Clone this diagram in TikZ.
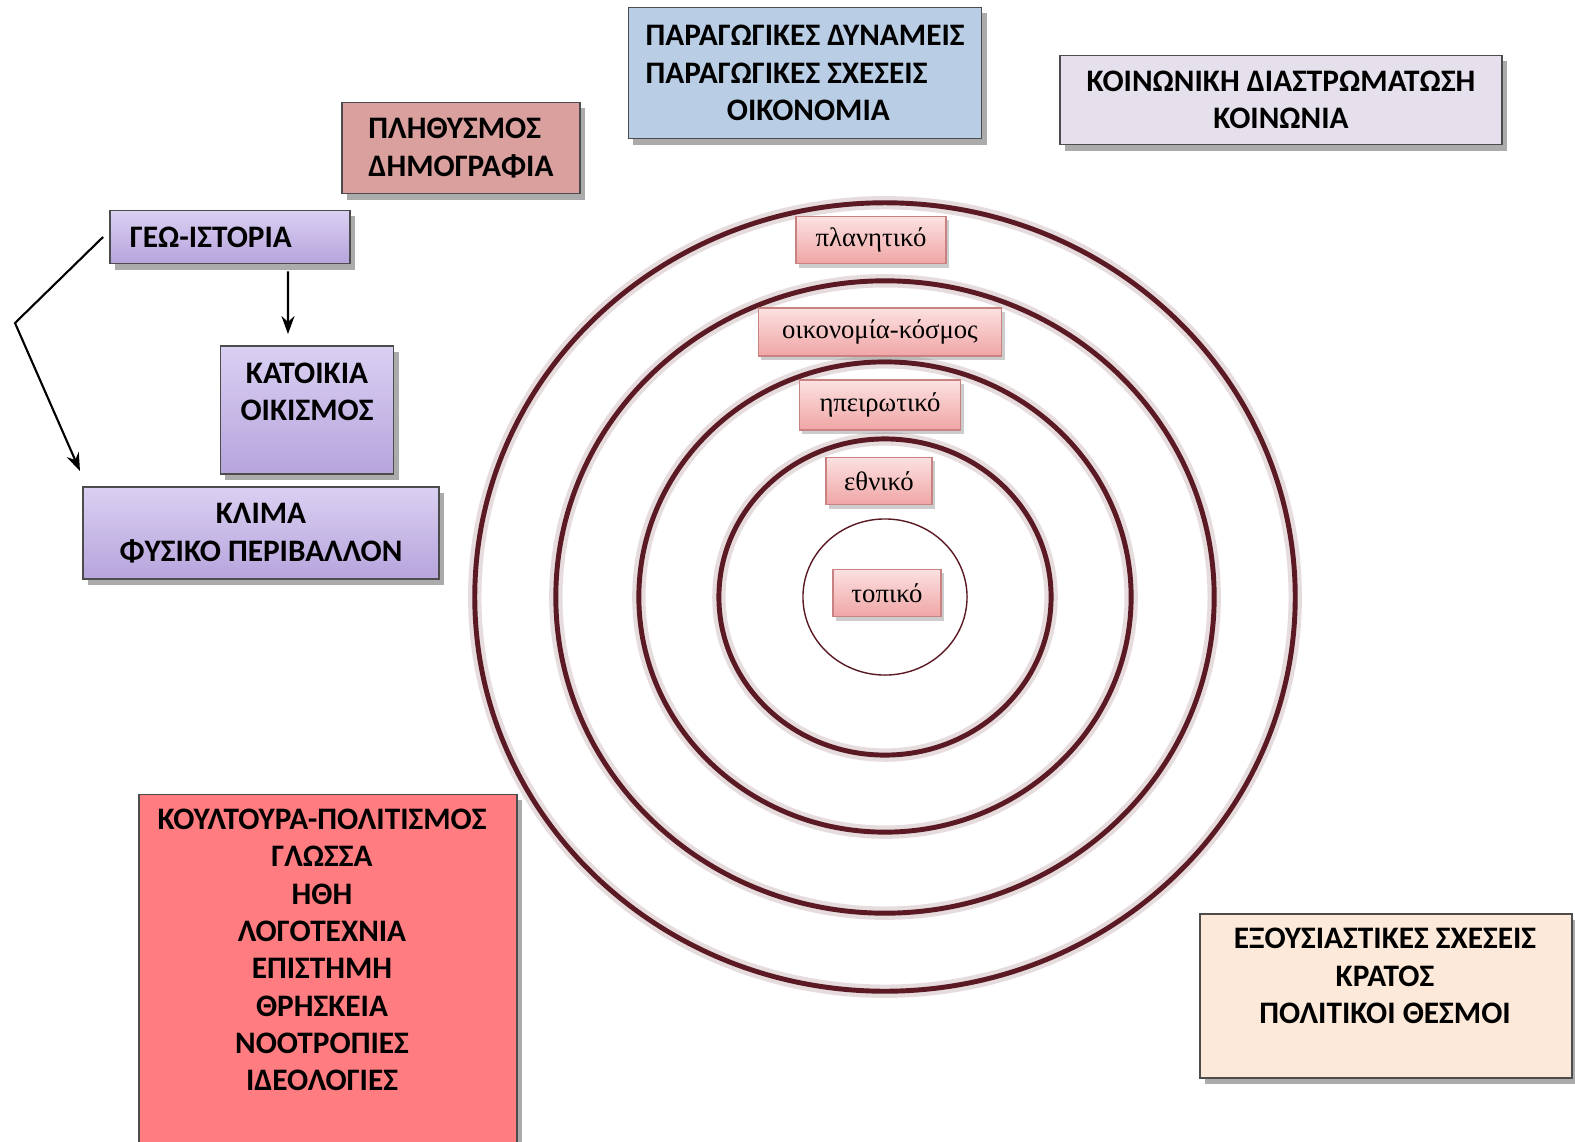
\documentclass[tikz,border=0pt]{standalone}
\usepackage{fontspec}
\setmainfont{Carlito}
\newfontfamily\tagfont{Liberation Serif}
\usetikzlibrary{shadows,arrows.meta}

\definecolor{plithcol}{RGB}{217,160,158}
\definecolor{paragcol}{RGB}{185,205,229}
\definecolor{koincol}{RGB}{230,224,236}
\definecolor{lilactop}{RGB}{218,208,242}
\definecolor{lilacbot}{RGB}{182,164,220}
\definecolor{koultcol}{RGB}{255,124,128}
\definecolor{exouscol}{RGB}{253,233,217}
\definecolor{tagtop}{RGB}{252,225,225}
\definecolor{tagbot}{RGB}{240,165,165}
\definecolor{tagline}{RGB}{200,130,130}
\definecolor{ringcol}{RGB}{90,25,35}

\begin{document}
\begin{tikzpicture}[x=0.01cm,y=-0.01cm]
\tikzset{pane/.style={draw=black!70, line width=0.5pt, inner sep=0pt,
    drop shadow={shadow xshift=0.05cm, shadow yshift=-0.06cm, fill=black!60, opacity=0.55},
    font=\fontsize{8.9}{10.6}\selectfont\bfseries},
  lilac/.style={pane, top color=lilactop, bottom color=lilacbot},
  words/.style={inner sep=0pt, align=center, font=\fontsize{8.9}{10.6}\selectfont\bfseries},
  tag/.style={draw=tagline, line width=0.4pt, inner sep=0pt, top color=tagtop, bottom color=tagbot,
    drop shadow={shadow xshift=0.03cm, shadow yshift=-0.04cm, fill=black!50, opacity=0.4},
    font=\tagfont\fontsize{7.6}{9}\selectfont},
  ring/.style={ringcol, line width=1.4pt},
  ringglow/.style={ringcol!30, line width=3.8pt, opacity=0.5},
  arr/.style={-{Stealth[length=0.18cm,width=0.13cm]}, line width=0.6pt}}
\useasboundingbox (0,0) rectangle (1575,1142);
\fill[white] (0,0) rectangle (1575,1142);

% rings
\coordinate (ctr) at (885,597);
\foreach \rx/\ry in {4.10/3.94, 3.29/3.16, 2.46/2.35, 1.66/1.58} {
  \draw[ringglow] (ctr) ellipse [x radius=\rx cm, y radius=\ry cm];
  \draw[ring] (ctr) ellipse [x radius=\rx cm, y radius=\ry cm];
}
\draw[ringcol, line width=0.4pt] (ctr) ellipse [x radius=0.82cm, y radius=0.78cm];

\node[tag, minimum width=1.50cm, minimum height=0.47cm] (plan) at (871,240) {πλανητικό};
\node[tag, minimum width=2.43cm, minimum height=0.48cm] (oikos) at (880,332) {οικονομία-κόσμος};
\node[tag, minimum width=1.61cm, minimum height=0.50cm] (ipeir) at (880,405) {ηπειρωτικό};
\node[tag, minimum width=1.06cm, minimum height=0.47cm] (ethn) at (879,481) {εθνικό};
\node[tag, minimum width=1.08cm, minimum height=0.47cm] (topi) at (887,593) {τοπικό};

% boxes
\node[pane, fill=plithcol, minimum width=2.38cm, minimum height=0.91cm, align=left] (plith) at (461,148) {ΠΛΗΘΥΣΜΟΣ\\ΔΗΜΟΓΡΑΦΙΑ};
\node[pane, fill=paragcol, minimum width=3.53cm, minimum height=1.31cm, align=left] (parag) at (805,73) {ΠΑΡΑΓΩΓΙΚΕΣ ΔΥΝΑΜΕΙΣ\\ΠΑΡΑΓΩΓΙΚΕΣ ΣΧΕΣΕΙΣ\\\hspace*{2.6em}ΟΙΚΟΝΟΜΙΑ};
\node[pane, fill=koincol, minimum width=4.42cm, minimum height=0.89cm, align=center] (koin) at (1281,100) {ΚΟΙΝΩΝΙΚΗ ΔΙΑΣΤΡΩΜΑΤΩΣΗ\\ΚΟΙΝΩΝΙΑ};
\node[lilac, minimum width=2.40cm, minimum height=0.53cm, text width=2.0cm, align=left] (geo) at (230,237) {ΓΕΩ-ΙΣΤΟΡΙΑ};
\node[lilac, minimum width=1.73cm, minimum height=1.28cm] (katoik) at (307,410) {};
\node[words] (katoikT) at (307,392) {ΚΑΤΟΙΚΙΑ\\ΟΙΚΙΣΜΟΣ};
\node[lilac, minimum width=3.56cm, minimum height=0.92cm, align=center] (klima) at (261,533) {ΚΛΙΜΑ\\ΦΥΣΙΚΟ ΠΕΡΙΒΑΛΛΟΝ};
\node[pane, fill=koultcol, minimum width=3.78cm, minimum height=3.65cm] (koult) at (328,977) {};
\node[words] (koultT) at (322,950) {ΚΟΥΛΤΟΥΡΑ-ΠΟΛΙΤΙΣΜΟΣ\\ΓΛΩΣΣΑ\\ΗΘΗ\\ΛΟΓΟΤΕΧΝΙΑ\\ΕΠΙΣΤΗΜΗ\\ΘΡΗΣΚΕΙΑ\\ΝΟΟΤΡΟΠΙΕΣ\\ΙΔΕΟΛΟΓΙΕΣ};
\node[pane, fill=exouscol, minimum width=3.72cm, minimum height=1.64cm] (exous) at (1386,996) {};
\node[words] (exousT) at (1385,976) {ΕΞΟΥΣΙΑΣΤΙΚΕΣ ΣΧΕΣΕΙΣ\\ΚΡΑΤΟΣ\\ΠΟΛΙΤΙΚΟΙ ΘΕΣΜΟΙ};

% arrows
\coordinate (knee) at (15,323);
\draw[arr] ([xshift=0.58cm,yshift=-0.07cm]geo.south) -- ([xshift=-0.19cm,yshift=0.11cm]katoik.north);
\draw[arr] ([xshift=-0.06cm]geo.west) -- (knee) -- ([xshift=-0.02cm,yshift=0.15cm]klima.north west);
\end{tikzpicture}
\end{document}
